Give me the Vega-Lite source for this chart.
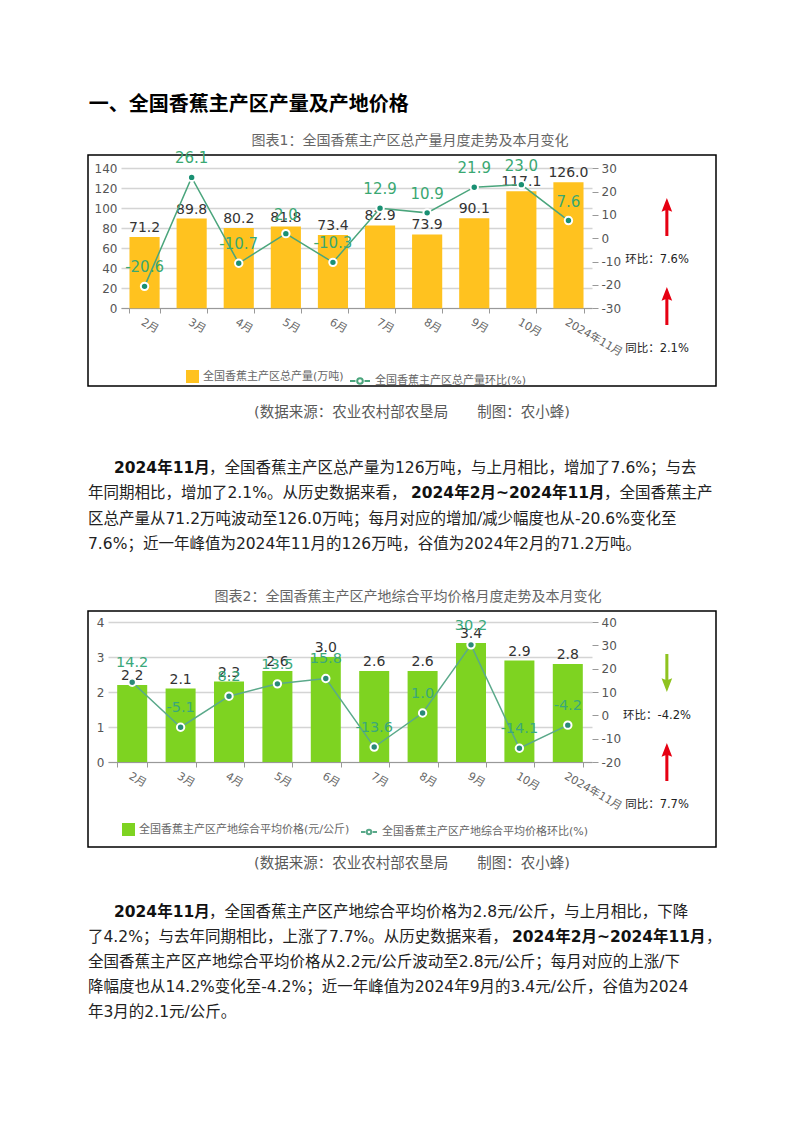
{
  "$schema": "https://vega.github.io/schema/vega-lite/v6.json",
  "background": "white",
  "padding": {"left": 81, "top": 94, "right": 0, "bottom": 0},
  "config": {
    "font": "'DejaVu Sans', 'Noto Sans CJK SC', sans-serif",
    "view": {"stroke": null},
    "concat": {"spacing": 0},
    "axis": {"labelOverlap": false},
    "locale": {"number": {"decimal": ".", "thousands": ",", "grouping": [3], "currency": ["", ""], "minus": "-"}}
  },
  "title": {"text": "一、全国香蕉主产区产量及产地价格", "anchor": "start", "dx": 7, "fontSize": 20, "fontWeight": "bold", "color": "#000000", "offset": 19},
  "spacing": 0,
  "resolve": {"scale": {"fill": "independent", "stroke": "independent", "color": "independent", "shape": "independent"}},
  "vconcat": [
    {
      "width": 628,
      "height": 231,
      "view": {"stroke": "#000000", "strokeWidth": 1.5},
      "title": {"text": "图表1：全国香蕉主产区总产量月度走势及本月变化", "fontSize": 14, "fontWeight": "normal", "color": "#666666", "anchor": "middle", "dx": 8, "offset": 3},
      "data": {"values": [
        {"m": "2月", "prod": 71.2, "mom": -20.6},
        {"m": "3月", "prod": 89.8, "mom": 26.1},
        {"m": "4月", "prod": 80.2, "mom": -10.7},
        {"m": "5月", "prod": 81.8, "mom": 2.0},
        {"m": "6月", "prod": 73.4, "mom": -10.3},
        {"m": "7月", "prod": 82.9, "mom": 12.9},
        {"m": "8月", "prod": 73.9, "mom": 10.9},
        {"m": "9月", "prod": 90.1, "mom": 21.9},
        {"m": "10月", "prod": 117.1, "mom": 23.0},
        {"m": "2024年11月", "prod": 126.0, "mom": 7.6}
      ]},
      "layer": [
        {
          "encoding": {
            "x": {"field": "m", "type": "nominal", "sort": null,
              "scale": {"range": [33, 504], "paddingInner": 0.36, "paddingOuter": 0.18},
              "axis": {"title": null, "orient": "bottom", "offset": -78, "labelAngle": 30, "labelFontSize": 11, "labelColor": "#666666", "labelOverlap": false, "domainColor": "#999999", "tickColor": "#999999", "ticks": true, "tickBand": "extent", "tickSize": 5, "labelPadding": 3, "grid": false}},
            "y": {"field": "prod", "type": "quantitative",
              "scale": {"domain": [0, 140], "range": [153.3, 13.3], "nice": false, "zero": true},
              "axis": {"title": null, "values": [0, 20, 40, 60, 80, 100, 120, 140], "format": "d", "labelOverlap": false, "offset": -33, "domain": false, "ticks": false, "grid": true, "gridColor": "#d4d4d4", "gridWidth": 1.5, "labelPadding": 4, "labelFontSize": 12, "labelColor": "#555555"}}
          },
          "layer": [
            {
              "mark": {"type": "bar"},
              "encoding": {
                "fill": {"datum": "全国香蕉主产区总产量(万吨)", "scale": {"range": ["#FFC21F"]},
                  "legend": {"orient": "none", "legendX": 98, "legendY": 215, "title": null, "symbolType": "square", "symbolSize": 169, "symbolStrokeWidth": 0, "labelFontSize": 11, "labelColor": "#666666", "labelOffset": 4, "labelLimit": 300}}
              }
            },
            {
              "mark": {"type": "text", "dy": -9, "fontSize": 14, "color": "#333333"},
              "encoding": {
                "text": {"field": "prod", "type": "quantitative", "format": ".1f"}
              }
            }
          ]
        },
        {
          "encoding": {
            "x": {"field": "m", "type": "nominal", "sort": null,
              "scale": {"range": [33, 504], "paddingInner": 0.36, "paddingOuter": 0.18}, "axis": null},
            "y": {"field": "mom", "type": "quantitative",
              "scale": {"domain": [-30, 30], "range": [153.3, 13.3], "nice": false, "zero": false},
              "axis": {"title": null, "orient": "right", "offset": -124, "values": [-30, -20, -10, 0, 10, 20, 30], "format": "d", "labelOverlap": false, "domain": false, "ticks": true, "tickSize": 6, "tickColor": "#999999", "grid": false, "labelPadding": 3, "labelFontSize": 12, "labelColor": "#555555"}}
          },
          "layer": [
            {
              "mark": {"type": "line", "strokeWidth": 1.5},
              "encoding": {
                "stroke": {"datum": "全国香蕉主产区总产量环比(%)", "scale": {"range": ["#4aa57c"]},
                  "legend": {"orient": "none", "legendX": 261, "legendY": 215, "title": null, "symbolType": "M-1,0H-0.45M0.45,0H1M-0.28,0A0.28,0.28 0 1,1 0.28,0A0.28,0.28 0 1,1 -0.28,0", "symbolSize": 400, "symbolStrokeWidth": 2, "labelFontSize": 11, "labelColor": "#666666", "labelOffset": 4, "labelLimit": 300}}
              }
            },
            {
              "mark": {"type": "point", "filled": true, "fill": "#1a9073", "stroke": "#ffffff", "strokeWidth": 2, "size": 55, "opacity": 1}
            },
            {
              "mark": {"type": "text", "dy": -19, "fontSize": 15, "color": "#3aa872"},
              "encoding": {
                "text": {"field": "mom", "type": "quantitative", "format": ".1f"}
              }
            }
          ]
        },
        {
          "data": {"values": [
            {"k": "环比", "label": "环比：7.6%", "dir": "up", "side": "本月"},
            {"k": "同比", "label": "同比：2.1%", "dir": "up", "side": "本月"}
          ]},
          "encoding": {
            "x": {"field": "side", "type": "nominal", "scale": {"type": "band", "range": [540, 598], "paddingInner": 0, "paddingOuter": 0}, "axis": null},
            "y": {"field": "k", "type": "nominal", "scale": {"type": "band", "domain": ["环比", "同比"], "range": [40, 218], "paddingInner": 0, "paddingOuter": 0}, "axis": null}
          },
          "layer": [
            {
              "mark": {"type": "point", "filled": true, "size": 1444, "opacity": 1, "strokeWidth": 0},
              "encoding": {
                "x": {"field": "side", "type": "nominal", "bandPosition": 0.67},
                "y": {"field": "k", "type": "nominal", "bandPosition": 0.247},
                "shape": {"field": "dir", "type": "nominal", "scale": {"domain": ["up", "down"], "range": ["M0,-1L0.28,-0.28L0.08,-0.36L0.08,1L-0.08,1L-0.08,-0.36L-0.28,-0.28Z", "M0,1L0.28,0.28L0.08,0.36L0.08,-1L-0.08,-1L-0.08,0.36L-0.28,0.28Z"]}, "legend": null},
                "color": {"field": "dir", "type": "nominal", "scale": {"domain": ["up", "down"], "range": ["#e60012", "#8fc31f"]}, "legend": null}
              }
            },
            {
              "mark": {"type": "text", "fontSize": 11.5, "color": "#222222"},
              "encoding": {
                "x": {"field": "side", "type": "nominal", "bandPosition": 0.5},
                "y": {"field": "k", "type": "nominal", "bandPosition": 0.73},
                "text": {"field": "label", "type": "nominal"}
              }
            }
          ]
        }
      ],
      "resolve": {"scale": {"x": "independent", "y": "independent"}}
    },
    {
      "width": 648,
      "height": 48,
      "data": {"values": [{"t": "(数据来源：农业农村部农垦局　　制图：农小蜂)"}]},
      "mark": {"type": "text", "fontSize": 14.5, "color": "#595959"},
      "encoding": {"text": {"field": "t", "type": "nominal"}}
    },
    {
      "width": 616,
      "height": 151.5,
      "data": {"values": [
        {"line": 1, "part": "b1", "text": "2024年11月"},
        {"line": 1, "part": "n1", "text": "，全国香蕉主产区总产量为126万吨，与上月相比，增加了7.6%；与去"},
        {"line": 2, "part": "n0", "text": "年同期相比，增加了2.1%。从历史数据来看，"},
        {"line": 2, "part": "b2", "text": "2024年2月~2024年11月"},
        {"line": 2, "part": "n2", "text": "，全国香蕉主产"},
        {"line": 3, "part": "n0", "text": "区总产量从71.2万吨波动至126.0万吨；每月对应的增加/减少幅度也从-20.6%变化至"},
        {"line": 4, "part": "n0", "text": "7.6%；近一年峰值为2024年11月的126万吨，谷值为2024年2月的71.2万吨。"}
      ]},
      "encoding": {
        "y": {"field": "line", "type": "ordinal", "scale": {"type": "point", "domain": [0, 1, 2, 3, 4, 5], "padding": 0.494, "align": 0.23}, "axis": null},
        "x": {"datum": 0, "type": "quantitative", "scale": {"domain": [0, 1]}, "axis": null},
        "text": {"field": "text", "type": "nominal"}
      },
      "layer": [
        {"transform": [{"filter": "datum.part === 'b1'"}], "mark": {"type": "text", "align": "left", "fontSize": 15.5, "fontWeight": "bold", "color": "#111111", "dx": 26}},
        {"transform": [{"filter": "datum.part === 'n1'"}], "mark": {"type": "text", "align": "left", "fontSize": 15.5, "color": "#222222", "dx": 121}},
        {"transform": [{"filter": "datum.part === 'n0'"}], "mark": {"type": "text", "align": "left", "fontSize": 15.5, "color": "#222222", "dx": 0}},
        {"transform": [{"filter": "datum.part === 'b2'"}], "mark": {"type": "text", "align": "left", "fontSize": 15.5, "fontWeight": "bold", "color": "#111111", "dx": 323}},
        {"transform": [{"filter": "datum.part === 'n2'"}], "mark": {"type": "text", "align": "left", "fontSize": 15.5, "color": "#222222", "dx": 516}}
      ]
    },
    {
      "width": 628,
      "height": 236,
      "view": {"stroke": "#000000", "strokeWidth": 1.5},
      "title": {"text": "图表2：全国香蕉主产区产地综合平均价格月度走势及本月变化", "fontSize": 14, "fontWeight": "normal", "color": "#666666", "anchor": "middle", "dx": 6, "offset": 7},
      "data": {"values": [
        {"m": "2月", "price": 2.2, "mom": 14.2},
        {"m": "3月", "price": 2.1, "mom": -5.1},
        {"m": "4月", "price": 2.3, "mom": 8.2},
        {"m": "5月", "price": 2.6, "mom": 13.5},
        {"m": "6月", "price": 3.0, "mom": 15.8},
        {"m": "7月", "price": 2.6, "mom": -13.6},
        {"m": "8月", "price": 2.6, "mom": 1.0},
        {"m": "9月", "price": 3.4, "mom": 30.2},
        {"m": "10月", "price": 2.9, "mom": -14.1},
        {"m": "2024年11月", "price": 2.8, "mom": -4.2}
      ]},
      "layer": [
        {
          "encoding": {
            "x": {"field": "m", "type": "nominal", "sort": null,
              "scale": {"range": [20, 504], "paddingInner": 0.38, "paddingOuter": 0.19},
              "axis": {"title": null, "orient": "bottom", "offset": -85, "labelAngle": 30, "labelFontSize": 11, "labelColor": "#666666", "labelOverlap": false, "domainColor": "#999999", "tickColor": "#999999", "ticks": true, "tickBand": "extent", "tickSize": 5, "labelPadding": 3, "grid": false}},
            "y": {"field": "price", "type": "quantitative",
              "scale": {"domain": [0, 4], "range": [151, 11], "nice": false, "zero": true},
              "axis": {"title": null, "values": [0, 1, 2, 3, 4], "format": "d", "labelOverlap": false, "offset": -20, "domain": false, "ticks": false, "grid": true, "gridColor": "#d4d4d4", "gridWidth": 1.5, "labelPadding": 4, "labelFontSize": 12, "labelColor": "#555555"}}
          },
          "layer": [
            {
              "mark": {"type": "bar"},
              "encoding": {
                "fill": {"datum": "全国香蕉主产区产地综合平均价格(元/公斤)", "scale": {"range": ["#7ED321"]},
                  "legend": {"orient": "none", "legendX": 34, "legendY": 212, "title": null, "symbolType": "square", "symbolSize": 169, "symbolStrokeWidth": 0, "labelFontSize": 11, "labelColor": "#666666", "labelOffset": 4, "labelLimit": 300}}
              }
            },
            {
              "mark": {"type": "text", "dy": -9, "fontSize": 14, "color": "#333333"},
              "encoding": {
                "text": {"field": "price", "type": "quantitative", "format": ".1f"}
              }
            }
          ]
        },
        {
          "encoding": {
            "x": {"field": "m", "type": "nominal", "sort": null,
              "scale": {"range": [20, 504], "paddingInner": 0.38, "paddingOuter": 0.19}, "axis": null},
            "y": {"field": "mom", "type": "quantitative",
              "scale": {"domain": [-20, 40], "range": [151, 11], "nice": false, "zero": false},
              "axis": {"title": null, "orient": "right", "offset": -124, "values": [-20, -10, 0, 10, 20, 30, 40], "format": "d", "labelOverlap": false, "domain": false, "ticks": true, "tickSize": 6, "tickColor": "#999999", "grid": false, "labelPadding": 3, "labelFontSize": 12, "labelColor": "#555555"}}
          },
          "layer": [
            {
              "mark": {"type": "line", "strokeWidth": 1.5},
              "encoding": {
                "stroke": {"datum": "全国香蕉主产区产地综合平均价格环比(%)", "scale": {"range": ["#5aa98a"]},
                  "legend": {"orient": "none", "legendX": 272, "legendY": 212, "title": null, "symbolType": "M-1,0H-0.45M0.45,0H1M-0.28,0A0.28,0.28 0 1,1 0.28,0A0.28,0.28 0 1,1 -0.28,0", "symbolSize": 256, "symbolStrokeWidth": 2, "labelFontSize": 11, "labelColor": "#666666", "labelOffset": 4, "labelLimit": 300}}
              }
            },
            {
              "mark": {"type": "point", "filled": true, "fill": "#2a8a78", "stroke": "#ffffff", "strokeWidth": 2, "size": 55, "opacity": 1}
            },
            {
              "mark": {"type": "text", "dy": -19, "fontSize": 14.5, "color": "#3aa87a"},
              "encoding": {
                "text": {"field": "mom", "type": "quantitative", "format": ".1f"}
              }
            }
          ]
        },
        {
          "data": {"values": [
            {"k": "环比", "label": "环比：-4.2%", "dir": "down", "side": "本月"},
            {"k": "同比", "label": "同比：7.7%", "dir": "up", "side": "本月"}
          ]},
          "encoding": {
            "x": {"field": "side", "type": "nominal", "scale": {"type": "band", "range": [540, 598], "paddingInner": 0, "paddingOuter": 0}, "axis": null},
            "y": {"field": "k", "type": "nominal", "scale": {"type": "band", "domain": ["环比", "同比"], "range": [40, 218], "paddingInner": 0, "paddingOuter": 0}, "axis": null}
          },
          "layer": [
            {
              "mark": {"type": "point", "filled": true, "size": 1444, "opacity": 1, "strokeWidth": 0},
              "encoding": {
                "x": {"field": "side", "type": "nominal", "bandPosition": 0.67},
                "y": {"field": "k", "type": "nominal", "bandPosition": 0.247},
                "shape": {"field": "dir", "type": "nominal", "scale": {"domain": ["up", "down"], "range": ["M0,-1L0.28,-0.28L0.08,-0.36L0.08,1L-0.08,1L-0.08,-0.36L-0.28,-0.28Z", "M0,1L0.28,0.28L0.08,0.36L0.08,-1L-0.08,-1L-0.08,0.36L-0.28,0.28Z"]}, "legend": null},
                "color": {"field": "dir", "type": "nominal", "scale": {"domain": ["up", "down"], "range": ["#e60012", "#8fc31f"]}, "legend": null}
              }
            },
            {
              "mark": {"type": "text", "fontSize": 11.5, "color": "#222222"},
              "encoding": {
                "x": {"field": "side", "type": "nominal", "bandPosition": 0.5},
                "y": {"field": "k", "type": "nominal", "bandPosition": 0.73},
                "text": {"field": "label", "type": "nominal"}
              }
            }
          ]
        }
      ],
      "resolve": {"scale": {"x": "independent", "y": "independent"}}
    },
    {
      "width": 648,
      "height": 32,
      "data": {"values": [{"t": "(数据来源：农业农村部农垦局　　制图：农小蜂)"}]},
      "mark": {"type": "text", "fontSize": 14.5, "color": "#595959"},
      "encoding": {"text": {"field": "t", "type": "nominal"}}
    },
    {
      "width": 616,
      "height": 150,
      "data": {"values": [
        {"line": 1, "part": "b1", "text": "2024年11月"},
        {"line": 1, "part": "n1", "text": "，全国香蕉主产区产地综合平均价格为2.8元/公斤，与上月相比，下降"},
        {"line": 2, "part": "n0", "text": "了4.2%；与去年同期相比，上涨了7.7%。从历史数据来看，"},
        {"line": 2, "part": "b2", "text": "2024年2月~2024年11月"},
        {"line": 2, "part": "n2", "text": "，"},
        {"line": 3, "part": "n0", "text": "全国香蕉主产区产地综合平均价格从2.2元/公斤波动至2.8元/公斤；每月对应的上涨/下"},
        {"line": 4, "part": "n0", "text": "降幅度也从14.2%变化至-4.2%；近一年峰值为2024年9月的3.4元/公斤，谷值为2024"},
        {"line": 5, "part": "n0", "text": "年3月的2.1元/公斤。"}
      ]},
      "encoding": {
        "y": {"field": "line", "type": "ordinal", "scale": {"type": "point", "padding": 1, "align": 0.64}, "axis": null},
        "x": {"datum": 0, "type": "quantitative", "scale": {"domain": [0, 1]}, "axis": null},
        "text": {"field": "text", "type": "nominal"}
      },
      "layer": [
        {"transform": [{"filter": "datum.part === 'b1'"}], "mark": {"type": "text", "align": "left", "fontSize": 15.5, "fontWeight": "bold", "color": "#111111", "dx": 26}},
        {"transform": [{"filter": "datum.part === 'n1'"}], "mark": {"type": "text", "align": "left", "fontSize": 15.5, "color": "#222222", "dx": 121}},
        {"transform": [{"filter": "datum.part === 'n0'"}], "mark": {"type": "text", "align": "left", "fontSize": 15.5, "color": "#222222", "dx": 0}},
        {"transform": [{"filter": "datum.part === 'b2'"}], "mark": {"type": "text", "align": "left", "fontSize": 15.5, "fontWeight": "bold", "color": "#111111", "dx": 424}},
        {"transform": [{"filter": "datum.part === 'n2'"}], "mark": {"type": "text", "align": "left", "fontSize": 15.5, "color": "#222222", "dx": 618}}
      ]
    }
  ]
}
